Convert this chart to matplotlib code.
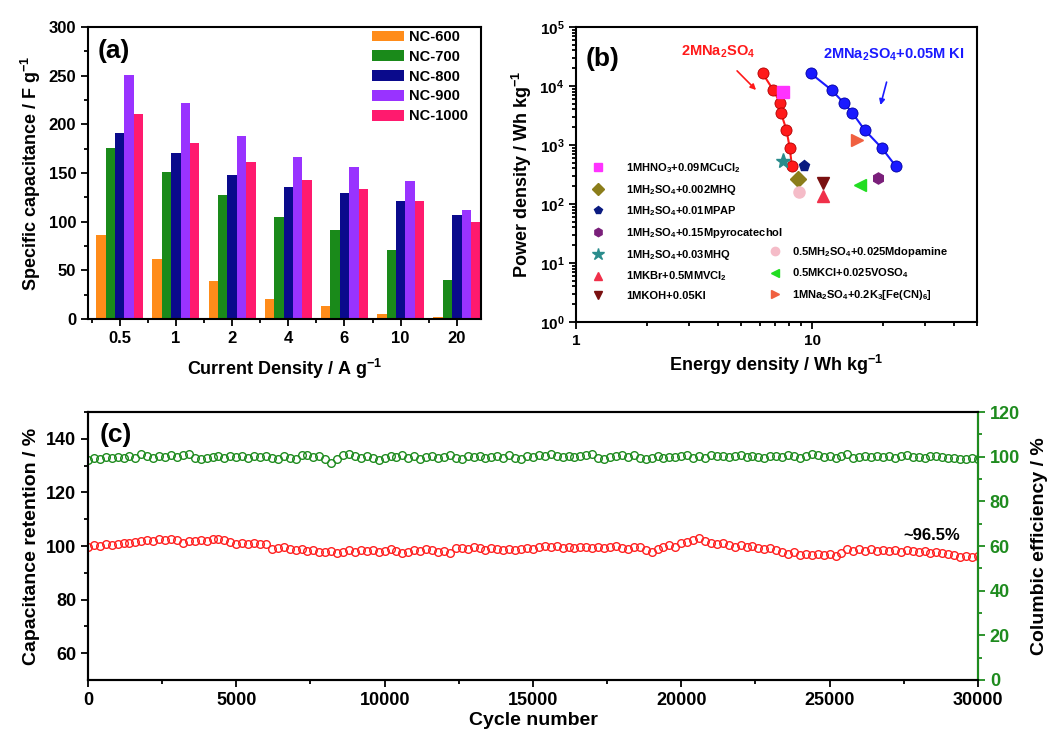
import numpy as np
import matplotlib
matplotlib.use('Agg')
import matplotlib.pyplot as plt
from matplotlib.ticker import MultipleLocator, LogLocator, LogFormatterMathtext, FixedLocator, FixedFormatter, NullFormatter
from matplotlib.lines import Line2D

plt.rcParams['font.family'] = ['Liberation Sans', 'DejaVu Sans']
plt.rcParams['font.weight'] = 'bold'
plt.rcParams['axes.labelweight'] = 'bold'
plt.rcParams['mathtext.fontset'] = 'custom'
plt.rcParams['mathtext.rm'] = 'Liberation Sans:bold'
plt.rcParams['mathtext.bf'] = 'Liberation Sans:bold'
plt.rcParams['mathtext.default'] = 'bf'
plt.rcParams['axes.linewidth'] = 1.5

# ---- (a) specific capacitance ----
densities = ['0.5', '1', '2', '4', '6', '10', '20']
samples = ['NC-600', 'NC-700', 'NC-800', 'NC-900', 'NC-1000']
nc600 = [86, 62, 39, 21, 13, 5, 2]
nc700 = [176, 151, 127, 105, 91, 71, 40]
nc800 = [191, 171, 148, 136, 129, 121, 107]
nc900 = [251, 222, 188, 166, 156, 142, 112]
nc1000 = [211, 181, 161, 143, 134, 121, 100]
bar_colors = ['#FF8C1A', '#1A8A1A', '#0A0A8C', '#9933FF', '#FF1A6E']

# ---- (b) Ragone plot ----
na2so4_e = [6.17, 6.85, 7.31, 7.38, 7.79, 8.05, 8.21]
na2so4_p = [16400, 8550, 5210, 3530, 1800, 879, 441]
ki_e = [9.87, 12.1, 13.6, 14.8, 16.7, 19.8, 22.6]
ki_p = [16400, 8550, 5210, 3530, 1800, 879, 441]

ref_labels = [r'1MHNO$_3$+0.09MCuCl$_2$', r'1MH$_2$SO$_4$+0.002MHQ', r'1MH$_2$SO$_4$+0.01MPAP',
              r'1MH$_2$SO$_4$+0.15Mpyrocatechol', r'1MH$_2$SO$_4$+0.03MHQ', r'1MKBr+0.5MMVCl$_2$',
              r'1MKOH+0.05KI', r'0.5MH$_2$SO$_4$+0.025Mdopamine', r'0.5MKCl+0.025VOSO$_4$',
              r'1MNa$_2$SO$_4$+0.2K$_3$[Fe(CN)$_6$]']
ref_e = [7.5, 8.75, 9.25, 19.05, 7.55, 11.1, 11.1, 8.81, 16.0, 15.5]
ref_p = [8000, 265, 441, 272, 542, 137, 224, 162, 210, 1215]
ref_markers = ['s', 'D', 'p', 'h', '*', '^', 'v', 'o', '<', '>']
ref_colors = ['#FF33FF', '#8B7D1A', '#0A1A80', '#7A1F7A', '#2A8C8C', '#F0304A', '#7A1010',
              '#F5BCC8', '#22DD22', '#F06040']

# ---- (c) cycling stability ----
cycles = np.arange(0, 30001, 200)
retention = [99.8, 100.3, 99.9, 100.6, 100.4, 100.9,
             101.2, 101.0, 101.6, 101.9, 102.3,
             102.0, 102.5, 102.2, 102.6, 102.1,
             101.3, 101.8, 102.0, 102.4, 101.9,
             102.5, 102.7, 102.1, 101.5, 100.9,
             101.2, 100.6, 101.0, 100.7, 100.9,
             98.8, 99.2, 99.6, 98.9, 98.4,
             98.7, 98.1, 98.5, 97.9, 97.6,
             98.2, 97.5, 97.9, 98.4, 97.7,
             98.6, 98.1, 98.5, 97.9, 98.3,
             98.8, 98.0, 97.4, 97.9, 98.6,
             98.2, 98.9, 98.4, 97.8, 98.3,
             97.5, 99.2, 99.4, 98.9, 99.6,
             99.1, 98.6, 99.3, 98.8, 98.4,
             99.0, 98.5, 98.9, 99.3, 98.7,
             99.8, 100.1, 99.6, 99.9, 99.4,
             99.7, 99.3, 99.8, 99.5, 99.1,
             99.6, 99.2, 99.7, 100.0, 99.4,
             99.0, 99.5, 99.8, 98.6, 97.9,
             98.8, 99.6, 100.2, 99.7, 101.0,
             101.5, 102.4, 102.8, 101.9, 101.3,
             100.6, 101.0, 100.2, 99.8, 100.3,
             99.6, 99.9, 99.4, 99.0, 99.3,
             98.6, 97.8, 97.2, 97.6, 96.8,
             97.1, 96.5, 97.0, 96.6, 96.9,
             96.4, 97.5, 98.8, 98.2, 98.7,
             98.3, 98.9, 98.1, 98.5, 98.0,
             98.4, 97.9, 98.6, 98.2, 97.7,
             98.0, 97.4, 97.9, 97.3, 97.0,
             96.6, 96.0, 96.4, 95.8, 96.2]
efficiency = [98.6, 99.4, 98.9, 99.7, 99.2, 99.8,
              99.3, 100.1, 99.6, 101.2, 100.4,
              99.5, 100.3, 99.8, 100.6, 99.9,
              100.8, 101.0, 99.2, 98.8, 99.6,
              99.9, 100.4, 99.3, 100.2, 99.7,
              100.5, 99.4, 100.1, 99.8, 100.3,
              99.6, 99.0, 100.2, 99.5, 98.9,
              100.6, 100.9, 99.7, 100.3, 98.9,
              97.0, 98.8, 100.6, 101.0, 100.2,
              99.4, 100.1, 99.6, 98.7, 99.2,
              100.4, 99.9, 100.7, 99.5, 100.2,
              99.1, 100.0, 100.5, 99.4, 99.9,
              100.6, 99.6, 99.0, 100.2, 99.7,
              100.1, 99.3, 99.8, 100.4, 99.5,
              100.9, 99.6, 98.8, 100.3, 99.9,
              100.7, 100.2, 101.0, 100.4, 99.8,
              100.5, 99.9, 100.3, 100.8, 101.2,
              99.4, 98.9, 99.7, 100.2, 100.6,
              99.8, 100.9, 99.3, 98.8, 99.6,
              100.2, 99.5, 100.0, 99.7, 100.4,
              100.9, 99.6, 100.3, 99.4, 100.7,
              100.2, 100.5, 99.8, 100.1, 100.6,
              99.7, 100.3, 100.0, 99.5, 100.4,
              100.2, 99.8, 100.6, 100.1, 99.6,
              100.3, 101.3, 100.7, 99.9, 100.2,
              99.6, 100.4, 101.0, 99.3, 99.8,
              100.5, 99.9, 100.3, 99.7, 100.1,
              99.5, 100.2, 100.6, 99.8, 100.0,
              99.4, 100.1, 100.5, 99.7, 99.2,
              99.6, 99.1, 98.8, 99.3, 98.9]


def style_ticks(ax, size=11):
    ax.tick_params(which='both', direction='out', labelsize=size, width=1.3)
    ax.tick_params(which='major', length=5)
    ax.tick_params(which='minor', length=3)


fig = plt.figure(figsize=(10.56, 7.36), dpi=100)

# ---------- panel (a) ----------
ax1 = fig.add_axes([0.0833, 0.5666, 0.3722, 0.3967])
x = np.arange(len(densities))
w = 0.167
for i, (vals, name) in enumerate(zip([nc600, nc700, nc800, nc900, nc1000], samples)):
    ax1.bar(x + (i - 2) * w, vals, w, color=bar_colors[i], label=name)
ax1.set_xlim(-0.566, 6.43)
ax1.set_ylim(0, 300)
ax1.set_xticks(x)
ax1.set_xticklabels(densities)
ax1.xaxis.set_minor_locator(FixedLocator(np.arange(-0.5, 6.6, 1.0)))
ax1.yaxis.set_major_locator(MultipleLocator(50))
ax1.yaxis.set_minor_locator(MultipleLocator(25))
style_ticks(ax1, 12)
ax1.set_xlabel(r'Current Density / A g$^{-1}$', fontsize=13, labelpad=8)
ax1.set_ylabel(r'Specific capacitance / F g$^{-1}$', fontsize=13)
ax1.text(0.025, 0.918, '(a)', transform=ax1.transAxes, fontsize=19, va='center', ha='left')
ax1.legend(loc='upper left', bbox_to_anchor=(0.723, 0.99), frameon=False, fontsize=10.5,
           handlelength=2.2, handleheight=0.75, handletextpad=0.3, labelspacing=0.4,
           borderpad=0, borderaxespad=0)

# ---------- panel (b) ----------
ax2 = fig.add_axes([0.5455, 0.5625, 0.3797, 0.4008])
ax2.set_xscale('log')
ax2.set_yscale('log')
ax2.plot(na2so4_e, na2so4_p, '-o', color='#FF1A1A', markersize=8, markeredgecolor='#B00000',
         markeredgewidth=0.6, lw=1.5)
ax2.plot(ki_e, ki_p, '-o', color='#1A1AFF', markersize=8, markeredgecolor='#0000A0',
         markeredgewidth=0.6, lw=1.5)
handles = []
for e, p, m, c, lab in zip(ref_e, ref_p, ref_markers, ref_colors, ref_labels):
    ms = 11 if m == '*' else 8
    ax2.plot([e], [p], linestyle='none', marker=m, color=c, markersize=ms)
    handles.append(Line2D([], [], linestyle='none', marker=m, color=c, markersize=ms - 2, label=lab))
ax2.set_xlim(1, 50)
ax2.set_ylim(1, 1e5)
ax2.xaxis.set_major_locator(FixedLocator([1, 10]))
ax2.xaxis.set_major_formatter(FixedFormatter(['1', '10']))
ax2.xaxis.set_minor_locator(LogLocator(base=10, subs=np.arange(2, 10)))
ax2.xaxis.set_minor_formatter(NullFormatter())
ax2.yaxis.set_major_locator(LogLocator(base=10, numticks=10))
ax2.yaxis.set_major_formatter(LogFormatterMathtext())
ax2.yaxis.set_minor_locator(LogLocator(base=10, subs=np.arange(2, 10), numticks=10))
ax2.yaxis.set_minor_formatter(NullFormatter())
style_ticks(ax2, 11)
ax2.set_xlabel(r'Energy density / Wh kg$^{-1}$', fontsize=13)
ax2.set_ylabel(r'Power density / Wh kg$^{-1}$', fontsize=13)
ax2.text(0.025, 0.89, '(b)', transform=ax2.transAxes, fontsize=19, va='center', ha='left')
leg1 = ax2.legend(handles=handles[:7], loc='upper left', bbox_to_anchor=(0.034, 0.546),
                  frameon=False, fontsize=8, handlelength=1.5, handletextpad=1.8,
                  labelspacing=0.7, borderpad=0, borderaxespad=0)
ax2.add_artist(leg1)
ax2.legend(handles=handles[7:], loc='upper left', bbox_to_anchor=(0.476, 0.262),
           frameon=False, fontsize=8, handlelength=1.5, handletextpad=0.8,
           labelspacing=0.7, borderpad=0, borderaxespad=0)
ax2.annotate(r'2MNa$_2$SO$_4$', xy=(5.79, 8550), xytext=(4.01, 37700), color='#FF1A1A',
             fontsize=10.5, ha='center', va='center',
             arrowprops=dict(arrowstyle='-|>', color='#FF1A1A', lw=1.2, mutation_scale=8,
                             shrinkA=8, shrinkB=0))
ax2.annotate(r'2MNa$_2$SO$_4$+0.05M KI', xy=(19.5, 4760), xytext=(22.2, 33500), color='#1A1AFF',
             fontsize=10.5, ha='center', va='center',
             arrowprops=dict(arrowstyle='-|>', color='#1A1AFF', lw=1.2, mutation_scale=8,
                             shrinkA=12, shrinkB=0))

# ---------- panel (c) ----------
ax3 = fig.add_axes([0.0833, 0.0761, 0.8428, 0.3641])
ax3.plot(cycles, retention, linestyle='none', marker='o', markersize=5.5, markerfacecolor='none',
         markeredgecolor='#FF2020', markeredgewidth=1.0)
ax3.set_xlim(0, 30000)
ax3.set_ylim(50, 150)
ax3.xaxis.set_major_locator(MultipleLocator(5000))
ax3.xaxis.set_minor_locator(MultipleLocator(2500))
ax3.yaxis.set_major_locator(FixedLocator([60, 80, 100, 120, 140]))
ax3.yaxis.set_minor_locator(FixedLocator([70, 90, 110, 130, 150]))
style_ticks(ax3, 13)
ax3.set_xlabel('Cycle number', fontsize=14, labelpad=2)
ax3.set_ylabel('Capacitance retention / %', fontsize=14)
ax3.text(0.013, 0.914, '(c)', transform=ax3.transAxes, fontsize=19, va='center', ha='left')
ax3.text(28450, 104.1, '~96.5%', fontsize=12, ha='center', va='center')

ax4 = ax3.twinx()
ax4.plot(cycles, efficiency, linestyle='none', marker='o', markersize=5.5, markerfacecolor='none',
         markeredgecolor='#1E8B1E', markeredgewidth=1.0)
ax4.set_ylim(0, 120)
ax4.yaxis.set_major_locator(MultipleLocator(20))
ax4.yaxis.set_minor_locator(MultipleLocator(10))
style_ticks(ax4, 13)
ax4.tick_params(axis='y', which='both', colors='#1E8B1E')
ax4.spines['right'].set_color('#1E8B1E')
ax4.set_ylabel('Columbic efficiency / %', fontsize=14, labelpad=8)

fig.savefig('out.png', dpi=100)
